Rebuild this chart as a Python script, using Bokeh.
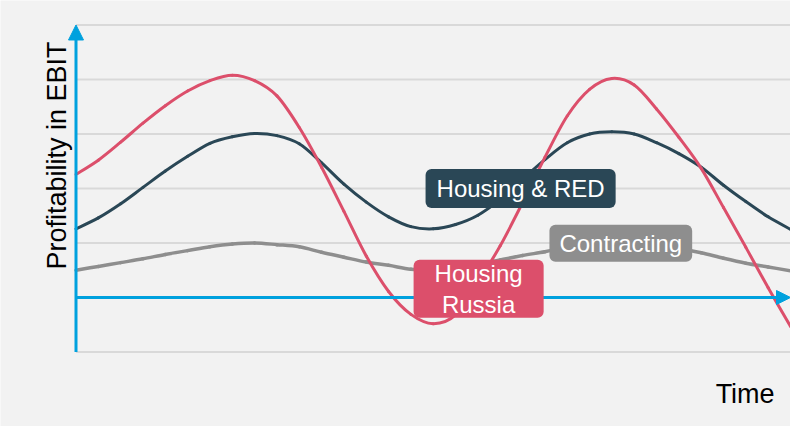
from bokeh.plotting import figure
from bokeh.models import Range1d, Label, Arrow, NormalHead, ColumnDataSource
from bokeh.embed import file_html
from bokeh.resources import INLINE
import math

# ---- data ----
time = [0.0, 0.125, 0.25, 0.375, 0.5, 0.625, 0.75, 0.875,
        1.0, 1.125, 1.25, 1.375, 1.5, 1.625, 1.75, 1.875,
        2.0, 2.125, 2.25, 2.375, 2.5, 2.625, 2.75, 2.875,
        3.0, 3.125, 3.25, 3.375, 3.5, 3.625, 3.75, 3.875, 4.0]

housing_red = [1.26, 1.46, 1.72, 2.02, 2.32, 2.59, 2.83, 2.95,
               3.01, 2.97, 2.82, 2.47, 2.08, 1.75, 1.48, 1.30,
               1.26, 1.34, 1.51, 1.80, 2.17, 2.53, 2.84, 3.00,
               3.04, 3.00, 2.84, 2.64, 2.39, 2.06, 1.76, 1.48, 1.25]

housing_russia = [2.26, 2.52, 2.85, 3.20, 3.52, 3.79, 3.98, 4.08,
                  3.98, 3.70, 3.12, 2.39, 1.58, 0.76, 0.11, -0.31,
                  -0.48, -0.32, 0.28, 0.95, 1.74, 2.57, 3.33, 3.82,
                  4.02, 3.90, 3.46, 2.94, 2.37, 1.65, 0.92, 0.18, -0.53]

contracting = [0.50, 0.57, 0.64, 0.71, 0.79, 0.86, 0.93, 0.98,
               1.00, 0.97, 0.93, 0.83, 0.74, 0.65, 0.59, 0.52,
               0.50, 0.53, 0.61, 0.69, 0.77, 0.84, 0.92, 0.97,
               1.00, 0.99, 0.95, 0.90, 0.82, 0.72, 0.63, 0.56, 0.49]

grid_levels = [-1, 1, 2, 3, 4, 5]

series_labels = ["Housing & RED", "Contracting", "Housing\nRussia"]
label_x = [2.489, 3.050, 2.254]
label_y = [2.0, 0.996, 0.16]

y_title = "Profitability in EBIT"
x_title = "Time"

# ---- styles ----
BG = "#f2f2f2"
GRID = "#d9d9d9"
BLUE = "#00a1de"
DARK = "#2a4756"
RED = "#dc4f6b"
GRAY = "#8e8e8e"
FONT = "Liberation Sans"

p = figure(width=790, height=426,
           x_range=Range1d(-0.4227, 4.0), y_range=Range1d(-2.367, 5.4495),
           x_axis_type=None, y_axis_type=None,
           min_border=0, min_border_left=0, min_border_right=0,
           min_border_top=0, min_border_bottom=0,
           outline_line_color=None,
           background_fill_color=BG, border_fill_color=BG,
           toolbar_location=None, output_backend="svg")

# grid lines
p.segment(x0=[time[0]] * len(grid_levels), y0=grid_levels,
          x1=[time[-1]] * len(grid_levels), y1=grid_levels,
          line_color=GRID, line_width=2)

# axes (arrows)
p.add_layout(Arrow(end=NormalHead(size=15, fill_color=BLUE, line_color=BLUE, line_width=1),
                   x_start=time[0], y_start=grid_levels[0], x_end=time[0], y_end=grid_levels[-1],
                   line_color=BLUE, line_width=3))
p.add_layout(Arrow(end=NormalHead(size=14, fill_color=BLUE, line_color=BLUE, line_width=1),
                   x_start=time[0], y_start=0, x_end=time[-1], y_end=0,
                   line_color=BLUE, line_width=3))


def smooth_source(xs, ys):
    """Smooth (Catmull-Rom) rendering of the read points as cubic Bezier pieces."""
    n = len(xs)
    d = dict(x0=[], y0=[], x1=[], y1=[], cx0=[], cy0=[], cx1=[], cy1=[])
    for i in range(n - 1):
        i0, i2, i3 = max(i - 1, 0), i + 1, min(i + 2, n - 1)
        d["x0"].append(xs[i]); d["y0"].append(ys[i])
        d["x1"].append(xs[i2]); d["y1"].append(ys[i2])
        d["cx0"].append(xs[i] + (xs[i2] - xs[i0]) / 6.0)
        d["cy0"].append(ys[i] + (ys[i2] - ys[i0]) / 6.0)
        d["cx1"].append(xs[i2] - (xs[i3] - xs[i]) / 6.0)
        d["cy1"].append(ys[i2] - (ys[i3] - ys[i]) / 6.0)
    return ColumnDataSource(d)


for ys, col, lw in [(contracting, GRAY, 3.5), (housing_red, DARK, 3), (housing_russia, RED, 3)]:
    p.bezier(x0="x0", y0="y0", x1="x1", y1="y1", cx0="cx0", cy0="cy0", cx1="cx1", cy1="cy1",
             source=smooth_source(time, ys), line_color=col, line_width=lw, line_cap="round")

# series labels
box_colors = [DARK, GRAY, RED]
paddings = [dict(left=11, right=11, top=6, bottom=6),
            dict(left=10, right=10, top=5, bottom=5),
            dict(left=21, right=21, top=0, bottom=0)]
for txt, lx, ly, col, pad in zip(series_labels, label_x, label_y, box_colors, paddings):
    p.add_layout(Label(x=lx, y=ly, text=txt, text_align="center", text_baseline="middle",
                       text_color="white", text_font=FONT, text_font_size="24px",
                       text_line_height=1.15,
                       background_fill_color=col, background_fill_alpha=1.0,
                       border_line_color=None, border_radius=6, padding=pad))

# axis titles
p.add_layout(Label(x=-0.109, y=2.606, text=y_title, angle=math.pi / 2,
                   text_align="center", text_baseline="alphabetic",
                   text_color="black", text_font=FONT, text_font_size="27px"))
p.add_layout(Label(x=3.746, y=-1.774, text=x_title,
                   text_align="center", text_baseline="alphabetic",
                   text_color="black", text_font=FONT, text_font_size="27px"))

open("out.html", "w").write(file_html(p, INLINE))
